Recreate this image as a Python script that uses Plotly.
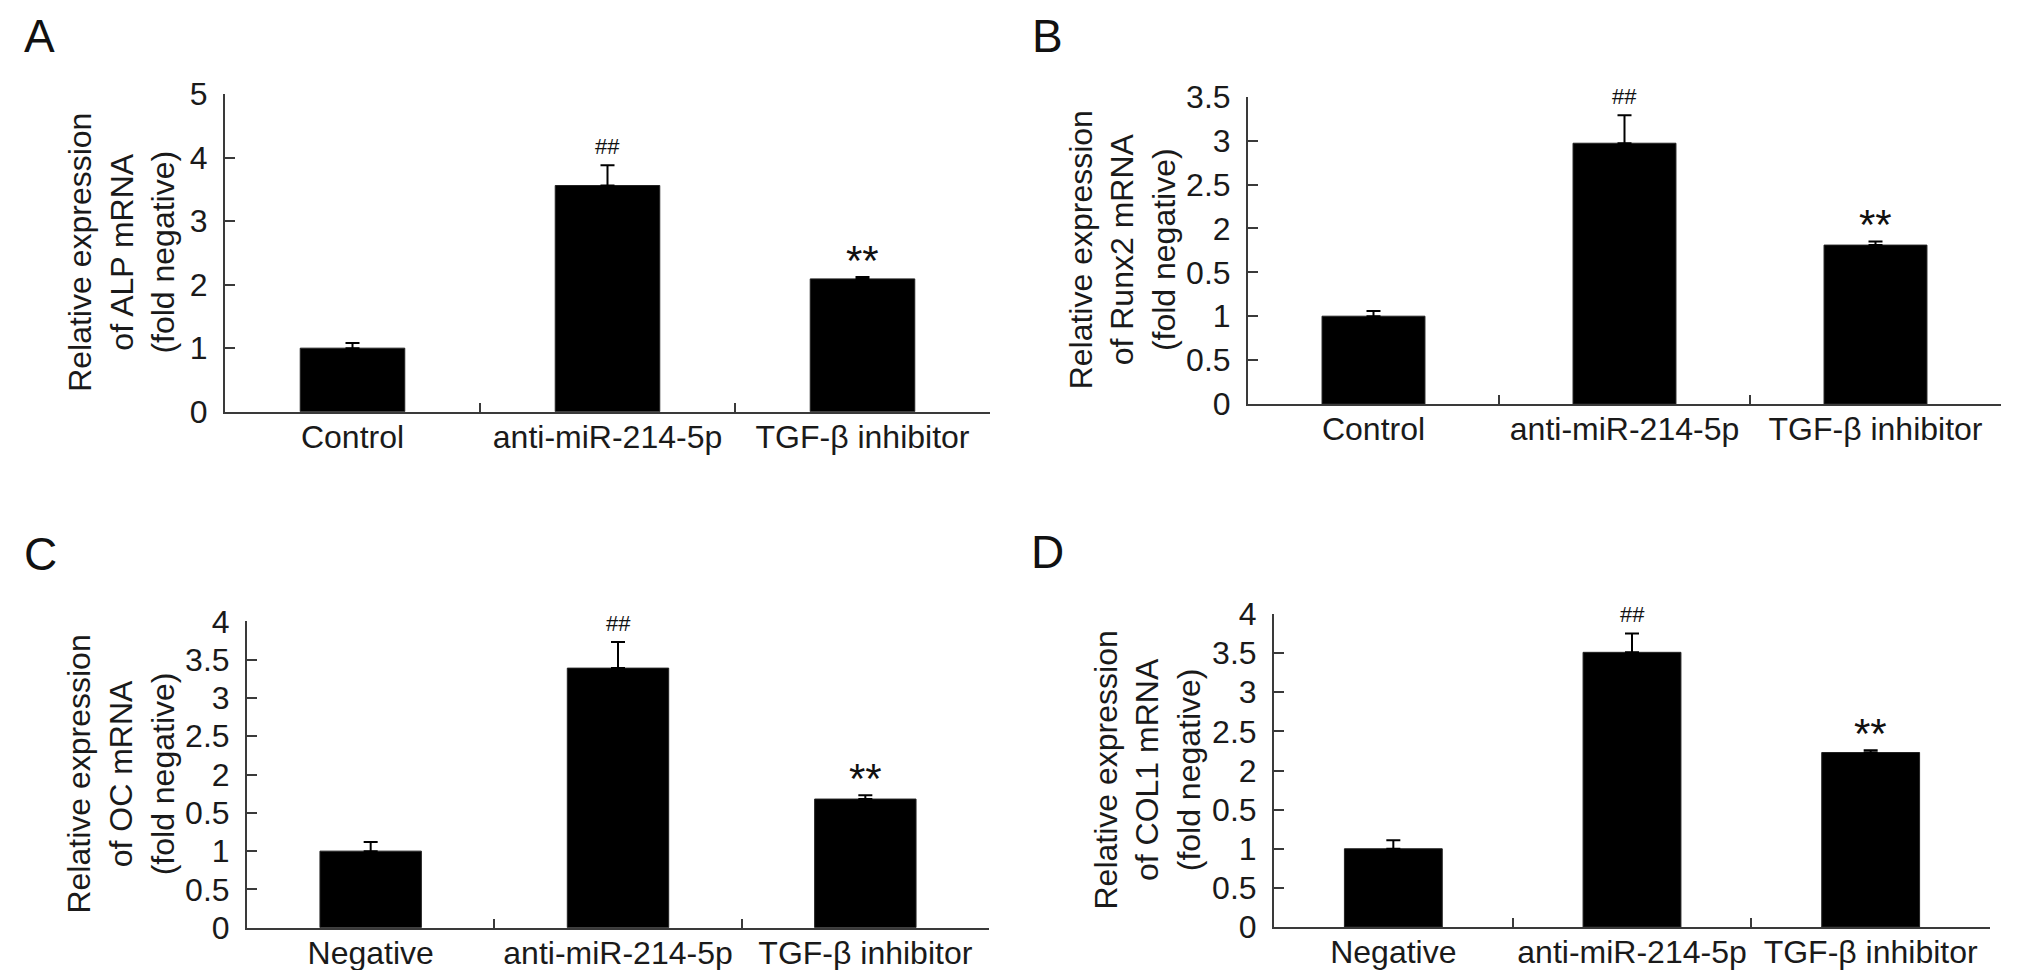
import plotly.graph_objects as go
from plotly.subplots import make_subplots

groups_top = ["Control", "anti-miR-214-5p", "TGF-β inhibitor"]
groups_bottom = ["Negative", "anti-miR-214-5p", "TGF-β inhibitor"]

alp_mean = [1.0, 3.56, 2.09]
alp_err = [0.08, 0.32, 0.03]
runx2_mean = [1.0, 2.97, 1.81]
runx2_err = [0.06, 0.32, 0.04]
oc_mean = [1.0, 3.39, 1.68]
oc_err = [0.12, 0.34, 0.05]
col1_mean = [1.0, 3.51, 2.23]
col1_err = [0.11, 0.24, 0.03]

marks = ["", "##", "**"]

ticks_a = [0, 1, 2, 3, 4, 5]
ticktext_a = ["0", "1", "2", "3", "4", "5"]
ticks_b = [0, 0.5, 1, 1.5, 2, 2.5, 3, 3.5]
ticktext_b = ["0", "0.5", "1", "0.5", "2", "2.5", "3", "3.5"]  # as printed in the figure
ticks_cd = [0, 0.5, 1, 1.5, 2, 2.5, 3, 3.5, 4]
ticktext_cd = ["0", "0.5", "1", "0.5", "2", "2.5", "3", "3.5", "4"]

# the page body keeps its default 8px margin, so the figure is a bit smaller than the window
OFF = 8
W, H = 2031 - 2 * OFF, 978 - 2 * OFF
FONT = "Liberation Sans, Arial, Helvetica, sans-serif"
AXIS_COLOR = "#3a3a3a"


def px_x(v):
    return (v - OFF) / W


def px_y(v):
    return 1 - (v - OFF) / H


# pixel boxes (window coordinates) of each plot area: left, right, top, bottom
panels = [
    dict(row=1, col=1, box=(225, 990, 94, 411.7), letter="A", letter_xy=(39, 36),
         groups=groups_top, mean=alp_mean, err=alp_err, ymax=5,
         tickvals=ticks_a, ticktext=ticktext_a, ytitle_x=122, label_pad=-4,
         ytitle="Relative expression<br>of ALP mRNA<br>(fold negative)"),
    dict(row=1, col=2, box=(1248, 2001, 96.7, 404), letter="B", letter_xy=(1047, 36),
         groups=groups_top, mean=runx2_mean, err=runx2_err, ymax=3.5,
         tickvals=ticks_b, ticktext=ticktext_b, ytitle_x=1122, label_pad=-4,
         ytitle="Relative expression<br>of Runx2 mRNA<br>(fold negative)"),
    dict(row=2, col=1, box=(247, 989, 621.4, 927.7), letter="C", letter_xy=(40, 554),
         groups=groups_bottom, mean=oc_mean, err=oc_err, ymax=4,
         tickvals=ticks_cd, ticktext=ticktext_cd, ytitle_x=121, label_pad=-4,
         ytitle="Relative expression<br>of OC mRNA<br>(fold negative)"),
    dict(row=2, col=2, box=(1274, 1990, 614, 927), letter="D", letter_xy=(1047, 552),
         groups=groups_bottom, mean=col1_mean, err=col1_err, ymax=4,
         tickvals=ticks_cd, ticktext=ticktext_cd, ytitle_x=1147, label_pad=-4,
         ytitle="Relative expression<br>of COL1 mRNA<br>(fold negative)"),
]

fig = make_subplots(rows=2, cols=2)

for i, p in enumerate(panels):
    left, right, top, bottom = p["box"]
    fig.add_trace(
        go.Bar(
            x=p["groups"],
            y=p["mean"],
            width=0.41,
            marker=dict(color="black", line=dict(color="#222222", width=1)),
            error_y=dict(type="data", symmetric=False, array=p["err"],
                         arrayminus=[0] * len(p["err"]),
                         color="black", thickness=2, width=7),
            showlegend=False,
        ),
        row=p["row"], col=p["col"]
    )
    fig.update_xaxes(
        domain=[px_x(left), px_x(right)],
        automargin=False, tickangle=0,
        showline=True, linecolor=AXIS_COLOR, linewidth=2,
        ticks="inside", tickson="boundaries", ticklen=9, tickwidth=2, tickcolor=AXIS_COLOR,
        showgrid=False, zeroline=False,
        tickfont=dict(size=32, color="#1a1a1a", family=FONT),
        ticklabelstandoff=p["label_pad"],
        row=p["row"], col=p["col"]
    )
    fig.update_yaxes(
        domain=[px_y(bottom), px_y(top)],
        automargin=False,
        range=[0, p["ymax"]],
        tickvals=p["tickvals"], ticktext=p["ticktext"],
        showline=True, linecolor=AXIS_COLOR, linewidth=2,
        ticks="inside", ticklen=10, tickwidth=2, tickcolor=AXIS_COLOR,
        showgrid=False, zeroline=False,
        tickfont=dict(size=32, color="#1a1a1a", family=FONT),
        ticklabelstandoff=9,
        row=p["row"], col=p["col"]
    )

    axis_n = "" if i == 0 else str(i + 1)
    # significance marks above the error bars
    for g, m, e, mk in zip(p["groups"], p["mean"], p["err"], marks):
        if not mk:
            continue
        big = mk == "**"
        fig.add_annotation(
            x=g, y=m + e, xref="x" + axis_n, yref="y" + axis_n,
            text=mk, showarrow=False, xanchor="center", yanchor="middle",
            yshift=17 if big else 19,
            font=dict(size=42 if big else 22, color="#111111", family=FONT),
        )
    # y axis title
    fig.add_annotation(
        x=px_x(p["ytitle_x"]), y=px_y((top + bottom) / 2), xref="paper", yref="paper",
        text=p["ytitle"], textangle=-90, showarrow=False,
        xanchor="center", yanchor="middle",
        font=dict(size=32, color="#1a1a1a", family=FONT),
    )
    # panel letter
    fig.add_annotation(
        x=px_x(p["letter_xy"][0]), y=px_y(p["letter_xy"][1]), xref="paper", yref="paper",
        text=p["letter"], showarrow=False, xanchor="center", yanchor="middle",
        font=dict(size=46, color="#111111", family=FONT),
    )

fig.update_layout(
    width=W, height=H,
    margin=dict(l=0, r=0, t=0, b=0),
    paper_bgcolor="white", plot_bgcolor="white",
    font=dict(family=FONT, color="#1a1a1a"),
    showlegend=False,
)

fig.write_html("out.html")
